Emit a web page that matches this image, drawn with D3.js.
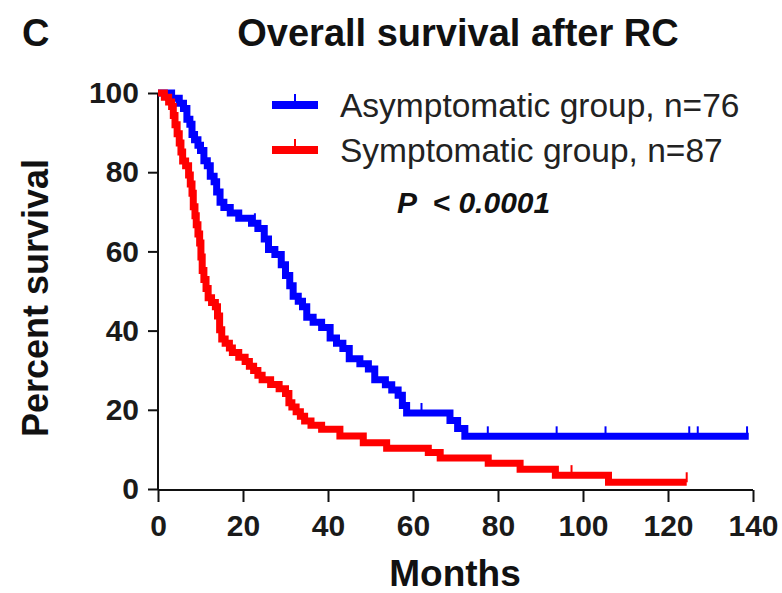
<!DOCTYPE html>
<html>
<head>
<meta charset="utf-8">
<script src="https://cdn.jsdelivr.net/npm/d3@7"></script>
<style>
  body { margin: 0; background: #fff; }
  text { font-family: Arial, "Liberation Sans", sans-serif; }
</style>
</head>
<body>
<svg id="chart" width="782" height="593"></svg>
<script>
// Kaplan-Meier steps: [month, percent surviving]
var asymSteps = [
  [0, 100], [3.2, 98.7], [5.0, 97.4], [6.0, 96.1], [6.8, 93.4], [7.5, 92.1],
  [8.0, 89.5], [8.6, 88.2], [9.4, 86.8], [10.0, 85.5], [10.8, 82.9], [11.6, 81.6],
  [12.3, 79.0], [13.2, 77.6], [13.8, 75.0], [14.6, 72.4], [15.5, 71.1], [17.0, 69.7],
  [19.0, 68.4], [22.0, 67.1], [23.5, 65.8], [25.0, 63.1], [26.0, 60.5], [27.5, 59.2],
  [29.0, 56.6], [30.0, 53.9], [31.0, 51.3], [31.8, 48.7], [33.0, 47.4], [34.0, 46.0],
  [35.0, 43.4], [36.5, 42.1], [38.5, 40.8], [40.5, 38.1], [42.0, 36.8], [43.5, 35.5],
  [45.0, 32.9], [47.5, 31.6], [49.5, 30.3], [51.0, 27.6], [53.5, 26.3], [55.0, 25.0],
  [56.5, 23.7], [57.5, 21.1], [58.5, 19.2], [68.7, 17.3], [70.5, 15.3], [72.2, 13.3],
  [139, 13.3]
];
var asymCensored = [22.8, 62, 77.6, 93.8, 105.3, 125, 127, 138.6];

var sympSteps = [
  [0, 100], [1.5, 98.9], [2.5, 97.7], [3.2, 96.6], [3.6, 94.3], [4.0, 92.0],
  [4.5, 89.7], [5.0, 87.4], [5.4, 85.1], [5.8, 82.8], [6.5, 81.6], [7.2, 79.3],
  [7.6, 77.0], [8.0, 74.7], [8.3, 71.3], [8.7, 69.0], [9.0, 66.7], [9.4, 64.4],
  [9.8, 62.1], [10.1, 58.6], [10.4, 55.2], [10.8, 52.9], [11.3, 50.6], [11.8, 48.3],
  [12.6, 47.1], [13.5, 46.0], [14.0, 43.7], [14.5, 40.2], [15.0, 37.9], [15.8, 36.8],
  [16.8, 35.6], [17.5, 34.5], [19.0, 33.3], [20.5, 32.2], [21.5, 31.0], [22.5, 29.9],
  [23.5, 28.7], [24.5, 27.6], [26.5, 26.4], [28.5, 25.3], [30.0, 24.1], [30.8, 21.8],
  [31.5, 20.7], [32.5, 19.5], [33.5, 18.4], [34.5, 17.2], [36.0, 16.1], [38.5, 15.1],
  [42.8, 13.4], [48.3, 11.7], [53.8, 10.3], [63.6, 9.2], [66.4, 7.8], [77.7, 6.5],
  [85.2, 5.0], [93.5, 3.5], [106, 1.7], [124.4, 1.7]
];
var sympCensored = [97.3, 124.4];

var groups = ["Asymptomatic group, n=76", "Symptomatic group, n=87"];
var colors = ["#0000ff", "#ff0000"];
var xTicks = [0, 20, 40, 60, 80, 100, 120, 140];
var yTicks = [0, 20, 40, 60, 80, 100];

var svg = d3.select("#chart");

var x = d3.scaleLinear().domain([0, 140]).range([158, 753]);
var y = d3.scaleLinear().domain([0, 100]).range([489, 93]);

// step value at a given month (for censor marks)
function survAt(steps, m) {
  var s = steps[0][1];
  steps.forEach(function(p) { if (p[0] <= m) s = p[1]; });
  return s;
}

// axes
var yAxis = svg.append("g")
  .attr("transform", "translate(158,0)")
  .call(d3.axisLeft(y).tickValues(yTicks).tickSize(10).tickPadding(9));
var xAxis = svg.append("g")
  .attr("transform", "translate(0,490)")
  .call(d3.axisBottom(x).tickValues(xTicks).tickSize(12).tickPadding(13));

[xAxis, yAxis].forEach(function(a) {
  a.select(".domain").attr("stroke", "#111").attr("stroke-width", 2);
  a.selectAll(".tick line").attr("stroke", "#111").attr("stroke-width", 2);
  a.selectAll(".tick text")
    .attr("fill", "#1a1a1a")
    .style("font-size", "30px")
    .style("font-weight", "bold");
});
// plain axis lines, no end hooks
yAxis.select(".domain").attr("d", "M0," + (y(100)) + "V" + (y(0) + 1));
xAxis.select(".domain").attr("d", "M" + x(0) + ",0H" + x(140));

// curves
var line = d3.line()
  .x(function(d) { return x(d[0]); })
  .y(function(d) { return y(d[1]); })
  .curve(d3.curveStepAfter);

var series = [
  { steps: asymSteps, cens: asymCensored, color: colors[0] },
  { steps: sympSteps, cens: sympCensored, color: colors[1] }
];

series.forEach(function(s) {
  svg.append("path")
    .datum(s.steps)
    .attr("d", line)
    .attr("fill", "none")
    .attr("stroke", s.color)
    .attr("stroke-width", 7);

  svg.selectAll(null)
    .data(s.cens)
    .enter()
    .append("line")
    .attr("x1", function(d) { return x(d); })
    .attr("x2", function(d) { return x(d); })
    .attr("y1", function(d) { return y(survAt(s.steps, d)); })
    .attr("y2", function(d) { return y(survAt(s.steps, d)) - 10; })
    .attr("stroke", s.color)
    .attr("stroke-width", 2);
});

// legend
var legend = svg.append("g");
groups.forEach(function(g, i) {
  var ly = 105 + i * 45;
  legend.append("line")
    .attr("x1", 272).attr("x2", 318)
    .attr("y1", ly).attr("y2", ly)
    .attr("stroke", colors[i]).attr("stroke-width", 8);
  legend.append("line")
    .attr("x1", 295).attr("x2", 295)
    .attr("y1", ly).attr("y2", ly - 11)
    .attr("stroke", colors[i]).attr("stroke-width", 2);
  legend.append("text")
    .attr("x", 340).attr("y", ly + 12)
    .style("font-size", "33.5px")
    .attr("fill", "#222")
    .text(g);
});

svg.append("text")
  .attr("x", 397).attr("y", 213)
  .style("font-size", "30px")
  .style("font-weight", "bold")
  .style("font-style", "italic")
  .attr("fill", "#111")
  .attr("xml:space", "preserve")
  .text("P  < 0.0001");

// titles
svg.append("text")
  .attr("x", 22).attr("y", 46)
  .style("font-size", "38px").style("font-weight", "bold")
  .attr("fill", "#111")
  .text("C");

svg.append("text")
  .attr("x", 458).attr("y", 46)
  .attr("text-anchor", "middle")
  .style("font-size", "38px").style("font-weight", "bold")
  .attr("fill", "#111")
  .text("Overall survival after RC");

svg.append("text")
  .attr("transform", "translate(48,298) rotate(-90)")
  .attr("text-anchor", "middle")
  .style("font-size", "36px").style("font-weight", "bold")
  .attr("fill", "#111")
  .text("Percent survival");

svg.append("text")
  .attr("x", 455).attr("y", 586)
  .attr("text-anchor", "middle")
  .style("font-size", "37px").style("font-weight", "bold")
  .attr("fill", "#111")
  .text("Months");
</script>
</body>
</html>
